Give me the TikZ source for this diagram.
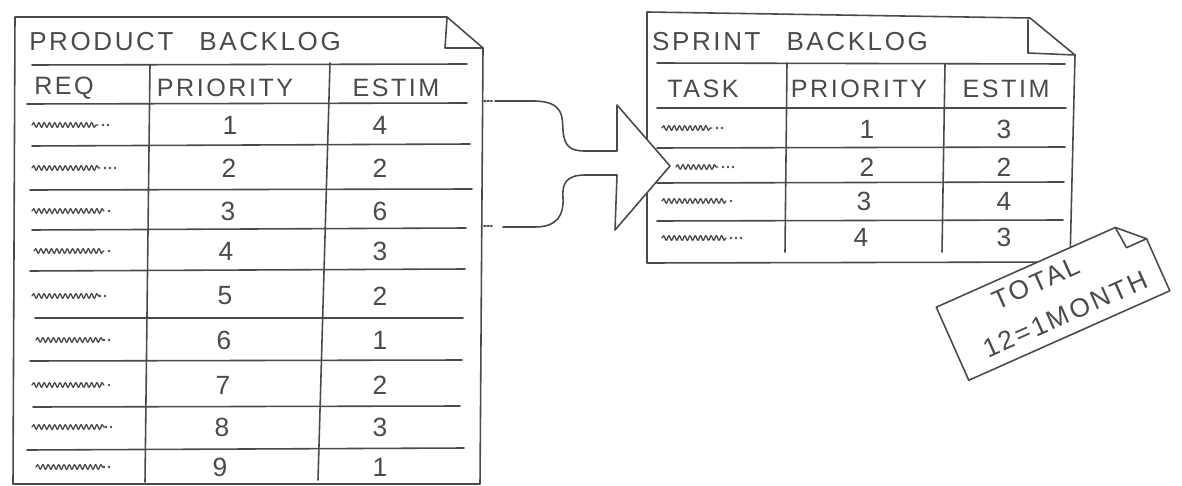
\documentclass[tikz,border=0pt]{standalone}
\usepackage{fontspec}
\setmainfont{Liberation Sans}
\newfontfamily\hand[LetterSpace=10]{Liberation Sans}
\usetikzlibrary{decorations.pathmorphing}
\definecolor{ink}{HTML}{4A4A4A}
% a handwritten-looking entry: wavy stroke from x=#1 to x=#3 at height #2, then #4 dots
\newcommand\scrawl[4]{%
  \draw[scrib] (#1,#2) -- (#3,#2);
  \foreach \k in {1,...,#4}{\fill[ink] ({#3+5*\k},#2) circle (1.3);}
}
\begin{document}
\begin{tikzpicture}[x=0.02cm,y=-0.02cm,line join=round,line cap=round,
  pen/.style={draw=ink,line width=0.9pt},
  title/.style={text=ink,font=\hand\fontsize{14.8}{14.8}\selectfont,inner sep=0pt},
  head/.style={text=ink,font=\hand\fontsize{14.3}{14.3}\selectfont,inner sep=0pt},
  num/.style={text=ink,font=\hand\fontsize{15}{15}\selectfont,inner sep=0pt},
  scrib/.style={draw=ink,line width=0.75pt,decorate,
    decoration={snake,segment length=3pt,amplitude=1.3pt}}]
\fill[white] (0,0) rectangle (1182,486);
\useasboundingbox (0,0) rectangle (1182,486);

% ---------------- product backlog sheet ----------------
\draw[pen,fill=white] (15,17) -- (447,17) -- (483,48) -- (480,484) -- (13,484) -- cycle;
\draw[pen] (447,18) -- (445,48) -- (483,48);
\node[title] (ptitle) at (185,42) {PRODUCT\quad BACKLOG};
\draw[pen] (32,65) -- (467,64);
\draw[pen] (27,104) -- (467,103);
\draw[pen] (32,146) -- (470,144);
\draw[pen] (30,190) -- (472,189);
\draw[pen] (32,230) -- (466,228);
\draw[pen] (30,271) -- (465,269);
\draw[pen] (35,318) -- (463,318);
\draw[pen] (30,361) -- (462,360);
\draw[pen] (33,407) -- (460,406);
\draw[pen] (27,450) -- (464,448);
\draw[pen] (150,65) -- (145,482);
\draw[pen] (330,63) -- (318,480);
\node[head] (preq) at (64,88) {REQ};
\node[head] (ppri) at (225,88) {PRIORITY};
\node[head] (pest) at (396,88) {ESTIM};
\foreach \y/\px/\p/\e [count=\i] in
  {125/230/1/4,168/229/2/2,211/228/3/6,251/226/4/3,296/225/5/2,
   340/224/6/1,385/223/7/2,427/222/8/3,467/220/9/1}{
  \node[num] (pp\i) at (\px,\y) {\p};
  \node[num] (pe\i) at (380,\y) {\e};
}
\scrawl{32}{125}{98}{2}
\scrawl{32}{168}{100}{3}
\scrawl{32}{211}{104}{1}
\scrawl{34}{251}{104}{1}
\scrawl{32}{296}{100}{0}
\scrawl{36}{340}{104}{0}
\scrawl{32}{385}{104}{1}
\scrawl{32}{427}{106}{0}
\scrawl{36}{467}{104}{0}

% ---------------- sprint backlog sheet ----------------
\draw[pen,fill=white] (647,12) -- (1030,18) -- (1075,55) -- (1070,262) -- (647,263) -- cycle;
\draw[pen] (1028,20) -- (1028,53) -- (1075,55);
\node[title] (stitle) at (790,42) {SPRINT\quad BACKLOG};
\draw[pen] (657,63) -- (1065,64);
\draw[pen] (657,108) -- (1066,108);
\draw[pen] (657,148) -- (1065,147);
\draw[pen] (657,183) -- (1064,182);
\draw[pen] (657,221) -- (1063,220);
\draw[pen] (787,63) -- (785,252);
\draw[pen] (945,64) -- (942,252);
\node[head] (stask) at (703,89) {TASK};
\node[head] (spri) at (859,89) {PRIORITY};
\node[head] (sest) at (1006,89) {ESTIM};
\foreach \y/\px/\p/\e [count=\i] in {129/867/1/3,167/867/2/2,201/864/3/4,237/861/4/3}{
  \node[num] (sp\i) at (\px,\y) {\p};
  \node[num] (se\i) at (1004,\y) {\e};
}
\scrawl{662}{128}{712}{2}
\scrawl{676}{167}{718}{3}
\scrawl{662}{201}{726}{1}
\scrawl{662}{238}{726}{3}

% ---------------- transfer arrow ----------------
\draw[ink,line width=0.9pt,densely dotted] (484,101) -- (492,101);
\draw[ink,line width=0.9pt,densely dotted] (484,226) -- (492,226);
\draw[pen,fill=white] (495,101) -- (533,101)
  .. controls (565,101) and (562,118) .. (563,130)
  .. controls (564,146) and (570,151) .. (585,151)
  -- (617,151) -- (617,105) -- (670,166) -- (615,230) -- (617,175) -- (585,175)
  .. controls (565,175) and (562,185) .. (563,198)
  .. controls (564,214) and (558,227) .. (535,227) -- (503,227);

% ---------------- total note ----------------
\begin{scope}[shift={(1053,299)},rotate=24]
  \draw[pen,fill=white] (-110,-40) -- (86,-40) -- (110,-17) -- (110,40) -- (-110,40) -- cycle;
  \draw[pen] (86,-40) -- (88,-17) -- (110,-17);
\end{scope}
\node[text=ink,font=\hand\fontsize{15}{23}\selectfont,inner sep=0pt,
  rotate=24,align=left] (ntotal) at (1057,296)
  {\hspace*{16pt}TOTAL\\12=1MONTH};
\end{tikzpicture}
\end{document}
